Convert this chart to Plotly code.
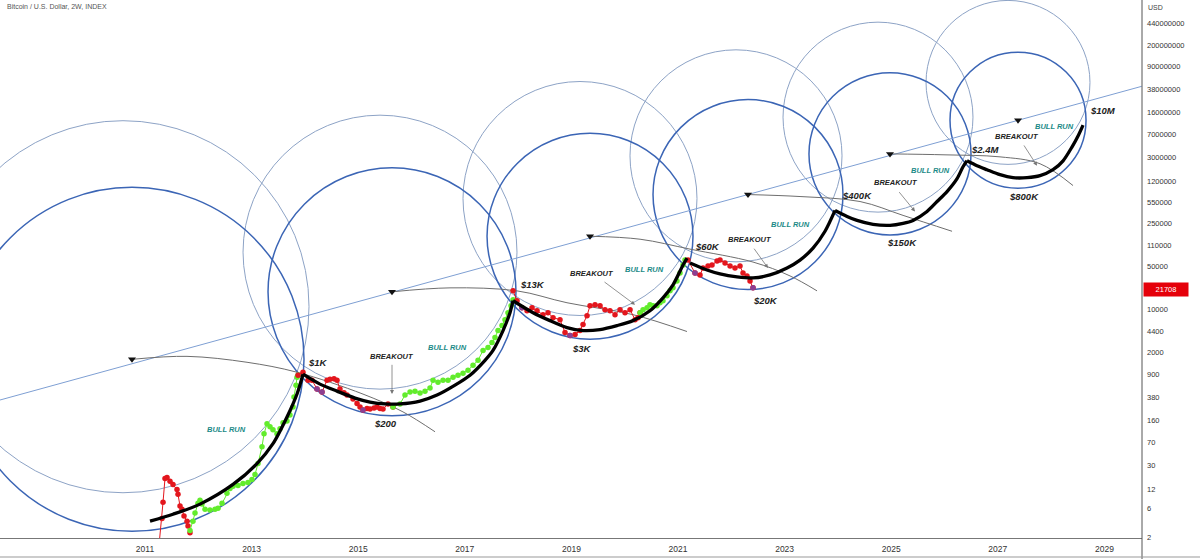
import numpy as np
import plotly.graph_objects as go

# ---------------- data (decimal year, USD) ----------------
bear1_t = [2011.244, 2011.319, 2011.338, 2011.375, 2011.413, 2011.469, 2011.525, 2011.600,
           2011.619, 2011.657, 2011.694, 2011.732, 2011.788, 2011.807, 2011.844]
bear1_p = [1.0, 4.1, 7.5, 18.3, 19.0, 16.4, 14.6, 12.1, 10.1, 6.5, 5.8, 4.5, 3.7, 3.1, 2.4]

bull1_t = [2011.844, 2011.900, 2011.938, 2011.994, 2012.032, 2012.069, 2012.126, 2012.219,
           2012.313, 2012.370, 2012.445, 2012.538, 2012.595, 2012.651, 2012.745, 2012.838,
           2012.932, 2013.007, 2013.064, 2013.120, 2013.195, 2013.233, 2013.289, 2013.345,
           2013.401, 2013.476, 2013.533, 2013.589, 2013.664, 2013.720, 2013.777, 2013.795,
           2013.833, 2013.852, 2013.871]
bull1_p = [2.6, 3.7, 5.0, 7.2, 8.1, 7.0, 5.8, 5.6, 5.8, 6.0, 7.2, 10.5, 12.6, 13.6, 14.1, 15.2,
           15.7, 17.6, 21.2, 31.9, 59.8, 97, 141, 126, 113, 97, 117, 146, 157, 196, 264, 383,
           598, 805, 867]

bear2_t = [2013.871, 2013.964, 2014.058, 2014.133, 2014.227, 2014.321, 2014.415, 2014.471,
           2014.546, 2014.602, 2014.658, 2014.733, 2014.790, 2014.902, 2014.978, 2015.034,
           2015.090, 2015.165, 2015.221, 2015.297, 2015.353, 2015.409, 2015.465, 2015.559,
           2015.653]
bear2_p = [867, 968, 720, 720, 516, 461, 720, 747, 760, 720, 516, 450, 413, 356, 300, 264,
           237, 250, 245, 255, 264, 250, 245, 296, 264]

bull2_t = [2015.653, 2015.784, 2015.878, 2015.972, 2016.065, 2016.160, 2016.253, 2016.347,
           2016.404, 2016.497, 2016.591, 2016.685, 2016.779, 2016.872, 2016.966, 2017.060,
           2017.154, 2017.248, 2017.342, 2017.435, 2017.510, 2017.566, 2017.623, 2017.698,
           2017.754, 2017.810, 2017.867, 2017.905]
bull2_p = [264, 296, 413, 461, 478, 445, 478, 535, 720, 668, 720, 720, 805, 867, 934, 1044,
           1256, 1513, 2193, 2449, 2951, 3548, 4604, 5540, 6920, 8980, 11650, 14550]

bear3_t = [2017.905, 2017.980, 2018.073, 2018.167, 2018.261, 2018.355, 2018.467, 2018.561,
           2018.655, 2018.786, 2018.880, 2018.974, 2019.068, 2019.161, 2019.218, 2019.293,
           2019.349, 2019.443, 2019.537, 2019.630, 2019.724, 2019.818, 2019.912, 2020.006,
           2020.100, 2020.194, 2020.250, 2020.288]
bear3_p = [20330, 14030, 10810, 9670, 10810, 9670, 8340, 8980, 7463, 6920, 4280, 3830, 3970,
           4604, 5754, 8040, 11650, 12090, 11650, 10040, 9670, 8340, 10040, 8980, 10040, 6920,
           7463, 8980]

bull3_t = [2020.288, 2020.344, 2020.419, 2020.474, 2020.531, 2020.606, 2020.662, 2020.718,
           2020.793, 2020.850, 2020.906, 2020.981, 2021.037, 2021.094, 2021.131]
bull3_p = [8980, 10040, 10810, 12090, 11650, 11650, 13020, 14030, 16880, 20330, 22700, 29440,
           39630, 53330, 64140]

bear4_t = [2021.187, 2021.319, 2021.413, 2021.469, 2021.563, 2021.638, 2021.732, 2021.788,
           2021.882, 2021.976, 2022.069, 2022.163, 2022.219, 2022.294, 2022.351, 2022.407]
bear4_p = [64100, 39600, 36800, 47700, 51400, 53300, 61800, 64100, 57400, 51400, 47700, 51400,
           39600, 35500, 29400, 22700]

purple_t = [2014.227, 2014.321, 2015.090, 2018.073, 2018.974, 2021.319, 2022.407]
purple_p = [516, 461, 237, 10810, 3830, 39600, 22700]

last_price = 21708

# projected cycle curves (black)
path1_t = [2011.094, 2011.525, 2012.032, 2012.651, 2013.101, 2013.401, 2013.664, 2013.852, 2013.964]
path1_p = [3.7, 4.8, 7.0, 14.6, 31.9, 67, 182, 429, 900]
path2_t = [2013.964, 2014.283, 2014.602, 2014.940, 2015.221, 2015.503, 2015.784, 2016.160,
           2016.479, 2016.816, 2017.098, 2017.379, 2017.529, 2017.717, 2017.848, 2017.905]
path2_p = [900, 621, 478, 369, 318, 296, 296, 330, 413, 598, 867, 1513, 2193, 4604, 8980, 14030]
path3_t = [2017.905, 2018.280, 2018.598, 2018.917, 2019.218, 2019.536, 2019.855, 2020.155,
           2020.474, 2020.718, 2020.906, 2021.094, 2021.169]
path3_p = [14030, 8980, 6670, 5150, 4604, 4775, 5540, 6670, 9670, 15660, 25400, 53300, 69200]
path4_t = [2021.225, 2021.544, 2021.788, 2022.107, 2022.407, 2022.726, 2023.045, 2023.289,
           2023.533, 2023.758, 2023.946]
path4_p = [57400, 44300, 38200, 34200, 32900, 36800, 47700, 64100, 100200, 188300, 410400]
path5_t = [2023.946, 2024.171, 2024.359, 2024.659, 2024.978, 2025.222, 2025.409, 2025.672,
           2025.860, 2026.047, 2026.235, 2026.347, 2026.422]
path5_p = [410400, 328300, 283000, 244000, 235200, 253400, 283000, 395200, 572500, 831000,
           1346000, 2100000, 2624000]
path6_t = [2026.422, 2026.610, 2026.797, 2027.041, 2027.285, 2027.548, 2027.792, 2028.036,
           2028.224, 2028.393, 2028.505, 2028.599]
path6_p = [2624000, 2183000, 1880000, 1561000, 1397000, 1397000, 1504000, 1880000, 2624000,
           4420000, 6640000, 9980000]

# long trend line
trend_t = [2008.28, 2029.70]
trend_p = [343, 4.25e7]

# circles: centre (year, price) and radius (years)
ring_thick_t = [2010.756, 2015.634, 2019.349, 2022.313, 2024.977, 2027.379]
ring_thick_p = [1570, 19580, 156400, 743000, 3.40e6, 1.20e7]
ring_thick_r = [3.227, 2.326, 1.932, 1.782, 1.520, 1.276]
ring_thin_t = [2010.587, 2015.409, 2019.161, 2022.088, 2024.752, 2027.191]
ring_thin_p = [11220, 86300, 641000, 3.16e6, 1.343e7, 4.92e7]
ring_thin_r = [3.490, 2.570, 2.195, 1.989, 1.782, 1.538]

# grey arcs
arcs_t = [
    [2010.756, 2011.788, 2012.914, 2013.852, 2015.090, 2015.840, 2016.441],
    [2015.634, 2016.722, 2017.979, 2018.917, 2020.155, 2021.168],
    [2019.349, 2020.288, 2021.225, 2022.407, 2023.101, 2023.608],
    [2022.313, 2023.289, 2024.415, 2025.222, 2026.141],
    [2024.977, 2026.009, 2027.041, 2027.792, 2028.411],
]
arcs_p = [
    [1570, 1755, 1406, 969, 428, 220, 104.6],
    [19580, 22700, 20300, 13020, 8340, 4440],
    [156400, 140000, 96600, 59600, 35500, 20300],
    [743000, 690000, 572500, 341000, 188300],
    [3.40e6, 3.28e6, 3.04e6, 2.35e6, 1.04e6],
]

# text labels
price_lbl = ["$1K", "$200", "$13K", "$3K", "$60K", "$20K", "$400K", "$150K", "$2.4M", "$800K", "$10M"]
price_lbl_t = [2014.246, 2015.521, 2018.261, 2019.199, 2021.544, 2022.632, 2024.358, 2025.202,
               2026.760, 2027.492, 2028.974]
price_lbl_p = [1406, 141, 25400, 2360, 107900, 14030, 716000, 125000, 3.945e6, 690000, 1.742e7]

bull_lbl_t = [2012.520, 2016.684, 2020.362, 2023.101, 2025.728, 2028.054]
bull_lbl_p = [113, 2449, 44300, 244300, 1.811e6, 9.62e6]

brk_lbl_t = [2015.634, 2019.386, 2022.351, 2025.090, 2027.360]
brk_lbl_p = [1754, 38200, 140000, 1.159e6, 6.40e6]
brk_tail_t = [2015.634, 2019.593, 2022.407, 2025.127, 2027.473]
brk_tail_p = [1352, 29440, 104000, 861000, 4.93e6]
brk_head_t = [2015.634, 2020.193, 2022.688, 2025.446, 2027.736]
brk_head_p = [428, 12090, 47600, 395000, 2.18e6]

y_ticks = [2, 6, 12, 30, 70, 160, 380, 900, 2000, 4400, 10000, 50000, 110000, 250000, 550000,
           1200000, 3000000, 7000000, 16000000, 38000000, 90000000, 200000000, 440000000]
x_ticks = [2011, 2013, 2015, 2017, 2019, 2021, 2023, 2025, 2027, 2029]

# ---------------- layout geometry ----------------
W, H = 1200, 559
ML, MR, MT, MB = 0, 58, 0, 21
X_RANGE = [2008.2795, 2029.705]
Y_RANGE_LOG = [0.295, 9.0298]
pw, ph = W - ML - MR, H - MT - MB
k = (pw / (X_RANGE[1] - X_RANGE[0])) / (ph / (Y_RANGE_LOG[1] - Y_RANGE_LOG[0]))

RED, GREEN, PURPLE = "#e3161d", "#62ec2c", "#8c3f92"
THIN_C, THICK_C = "#8da3c6", "#3b65b5"
TEAL = "#1b8a87"
FONT = "Liberation Sans"

fig = go.Figure()

# trend line
fig.add_trace(go.Scatter(x=trend_t, y=trend_p, mode="lines",
                         line=dict(color="#7e9fd3", width=1), hoverinfo="skip"))
# arcs
for at, ap in zip(arcs_t, arcs_p):
    fig.add_trace(go.Scatter(x=at, y=ap, mode="lines",
                             line=dict(color="#6e6e6e", width=1, shape="spline", smoothing=1.0),
                             hoverinfo="skip"))
# arc markers
fig.add_trace(go.Scatter(x=ring_thick_t, y=ring_thick_p, mode="markers",
                         marker=dict(symbol="triangle-down", size=7, color="#111"),
                         hoverinfo="skip"))

# price segments
for st, sp, col in [(bear1_t, bear1_p, RED), (bull1_t, bull1_p, GREEN), (bear2_t, bear2_p, RED),
                    (bull2_t, bull2_p, GREEN), (bear3_t, bear3_p, RED), (bull3_t, bull3_p, GREEN),
                    (bear4_t, bear4_p, RED)]:
    fig.add_trace(go.Scatter(x=st, y=sp, mode="lines+markers",
                             line=dict(color=col, width=1),
                             marker=dict(color=col, size=5.5), hoverinfo="skip"))
fig.add_trace(go.Scatter(x=purple_t, y=purple_p, mode="markers",
                         marker=dict(color=PURPLE, size=5.5), hoverinfo="skip"))

# projected paths
for pt, pp in [(path1_t, path1_p), (path2_t, path2_p), (path3_t, path3_p),
               (path4_t, path4_p), (path5_t, path5_p), (path6_t, path6_p)]:
    fig.add_trace(go.Scatter(x=pt, y=pp, mode="lines",
                             line=dict(color="#000", width=3.3, shape="spline", smoothing=0.8),
                             hoverinfo="skip"))

shapes = []
for ts, ps, rs, col, wd in [(ring_thin_t, ring_thin_p, ring_thin_r, THIN_C, 1),
                            (ring_thick_t, ring_thick_p, ring_thick_r, THICK_C, 1.5)]:
    for t, p, r in zip(ts, ps, rs):
        ry = r * k
        shapes.append(dict(type="circle", xref="x", yref="y", x0=t - r, x1=t + r,
                           y0=p / 10 ** ry, y1=p * 10 ** ry,
                           line=dict(color=col, width=wd), layer="below"))
# frame lines
shapes.append(dict(type="line", xref="paper", yref="paper", x0=1, x1=1,
                   y0=-MB / ph, y1=1, line=dict(color="#555", width=1)))
shapes.append(dict(type="line", xref="paper", yref="paper", x0=0, x1=W / pw,
                   y0=-(MB - 2) / ph, y1=-(MB - 2) / ph, line=dict(color="#999", width=1)))

ann = []
for txt, t, p in zip(price_lbl, price_lbl_t, price_lbl_p):
    ann.append(dict(x=t, y=np.log10(p), text="<b><i>" + txt + "</i></b>", showarrow=False,
                    font=dict(family=FONT, size=9.5, color="#222")))
for t, p in zip(bull_lbl_t, bull_lbl_p):
    ann.append(dict(x=t, y=np.log10(p), text="<b><i>BULL RUN</i></b>", showarrow=False,
                    font=dict(family=FONT, size=7.5, color=TEAL)))
for t, p in zip(brk_lbl_t, brk_lbl_p):
    ann.append(dict(x=t, y=np.log10(p), text="<b><i>BREAKOUT</i></b>", showarrow=False,
                    font=dict(family=FONT, size=7.5, color="#222")))
for t0, p0, t1, p1 in zip(brk_tail_t, brk_tail_p, brk_head_t, brk_head_p):
    ann.append(dict(x=t1, y=np.log10(p1), ax=t0, ay=np.log10(p0), axref="x", ayref="y",
                    text="", showarrow=True, arrowhead=2, arrowsize=1, arrowwidth=0.8,
                    arrowcolor="#777"))
ann.append(dict(xref="paper", yref="paper", x=0.004, y=0.998, xanchor="left", yanchor="top",
                text="Bitcoin / U.S. Dollar, 2W, INDEX", showarrow=False,
                font=dict(family=FONT, size=7, color="#555")))
ann.append(dict(xref="paper", yref="paper", x=(pw + 4) / pw, y=0.996, xanchor="left",
                yanchor="top", text="USD", showarrow=False,
                font=dict(family=FONT, size=7, color="#444")))
ann.append(dict(xref="paper", yref="y", x=(pw + 1) / pw, y=np.log10(last_price),
                xanchor="left", yanchor="middle", text=f"{last_price}", showarrow=False,
                bgcolor="#e5000a", borderpad=2, width=40, align="center",
                font=dict(family=FONT, size=7.5, color="#fff")))

fig.update_layout(
    width=W, height=H, margin=dict(l=ML, r=MR, t=MT, b=MB, autoexpand=False),
    paper_bgcolor="#fff", plot_bgcolor="#fff", showlegend=False,
    shapes=shapes, annotations=ann,
    xaxis=dict(range=X_RANGE, showgrid=False, zeroline=False, tickmode="array",
               tickvals=x_ticks, ticktext=[str(v) for v in x_ticks], ticks="",
               ticklabelstandoff=3,
               tickfont=dict(family=FONT, size=8.5, color="#333"),
               showline=True, linecolor="#777", linewidth=1, mirror=True),
    yaxis=dict(type="log", range=Y_RANGE_LOG, side="right", showgrid=False, zeroline=False,
               tickmode="array", tickvals=y_ticks, ticktext=[str(v) for v in y_ticks],
               ticks="", ticklabelstandoff=4,
               tickfont=dict(family=FONT, size=7.5, color="#333"),
               showline=False),
)
fig.write_html("out.html", config={"displayModeBar": False, "staticPlot": True},
               post_script="document.body.style.margin='0';document.body.style.overflow='hidden';")
